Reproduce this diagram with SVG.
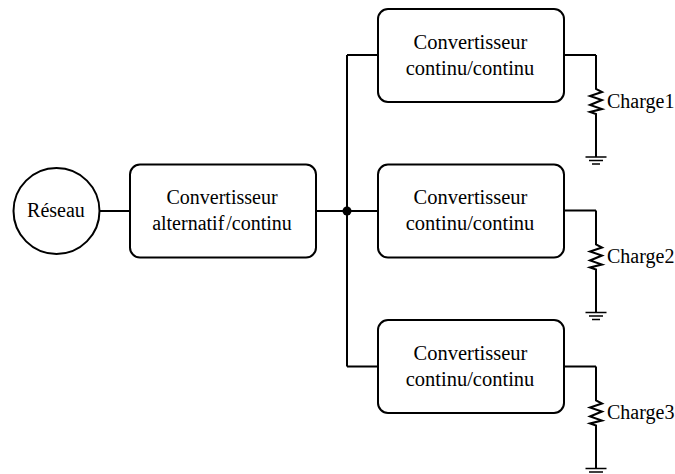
<svg xmlns="http://www.w3.org/2000/svg" width="675" height="474" viewBox="0 0 675 474">
<style>
.s{fill:none;stroke:#000;stroke-width:2}
.n{fill:#fff;stroke:#000;stroke-width:2}
.g{fill:none;stroke:#000;stroke-width:1.500}
text{font-family:"Liberation Serif","Times New Roman",serif;font-size:20px;fill:#000;text-anchor:middle}
.d{font-size:20.500px}
.l{text-anchor:start}
</style>
<defs>
<g id="load">
<path class="s" d="M0 0V34L6 37L-6 41L6 45L-6 50L6 54L-6 57L0 59V102"/>
<path class="g" d="M-10.500 102H10.500M-7 105.500H7M-4 109H4"/>
</g>
</defs>
<rect width="675" height="474" fill="#fff"/>
<g id="connectors">
<path class="s" d="M99 211H130M316 211H378M347 55V366.500M347 55H378M347 366.500H378M564 55H596M564 210.500H596M564 366.500H596"/>
<use href="#load" x="596" y="55"/>
<use href="#load" x="596" y="210.500"/>
<use href="#load" x="596" y="366.500"/>
<circle cx="347" cy="211" r="4.500" fill="#000"/>
</g>
<g id="reseau"><circle class="n" cx="56.500" cy="211" r="43"/><text x="56" y="217">Réseau</text></g>
<g id="ac-dc"><rect class="n" x="130" y="164.500" width="186" height="93" rx="10"/><text x="222" y="204">Convertisseur</text><text x="222" y="230" word-spacing="-3">alternatif /continu</text></g>
<g id="dc-dc-1"><rect class="n" x="378" y="9" width="186" height="93" rx="10"/><text class="d" x="470.500" y="49">Convertisseur</text><text class="d" x="470" y="74.500">continu/continu</text></g>
<g id="dc-dc-2"><rect class="n" x="378" y="164.500" width="186" height="93" rx="10"/><text class="d" x="470.500" y="204">Convertisseur</text><text class="d" x="470" y="229.500">continu/continu</text></g>
<g id="dc-dc-3"><rect class="n" x="378" y="320" width="186" height="93" rx="10"/><text class="d" x="470.500" y="360">Convertisseur</text><text class="d" x="470" y="385.500">continu/continu</text></g>
<g id="charge1"><text class="l" x="607" y="108">Charge1</text></g>
<g id="charge2"><text class="l" x="607" y="263">Charge2</text></g>
<g id="charge3"><text class="l" x="607" y="419">Charge3</text></g>
</svg>
